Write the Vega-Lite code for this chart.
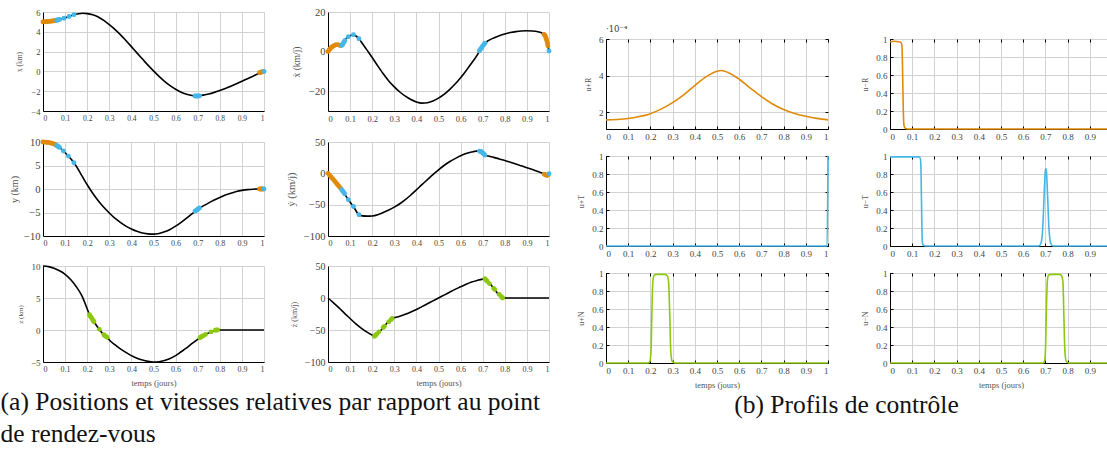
{
  "$schema": "https://vega.github.io/schema/vega-lite/v6.json",
  "background": "white",
  "padding": {"left": 0, "top": 7, "right": 0, "bottom": 0},
  "config": {
    "font": "Liberation Serif",
    "view": {"stroke": null},
    "axis": {
      "labelFont": "Liberation Serif", "labelFontSize": 8.5, "labelColor": "#444", "labelOverlap": false,
      "titleFont": "Liberation Serif", "titleFontSize": 8.5, "titleColor": "#555", "titleFontWeight": "normal",
      "gridColor": "#d2d2d2", "gridWidth": 1, "domainColor": "#000", "domainWidth": 1,
      "ticks": false, "labelPadding": 3, "titlePadding": 6
    },
    "title": {"font": "Liberation Serif", "fontWeight": "normal", "color": "#111"}
  },
  "datasets": {
    "x": [{"t":0,"v":5.0},{"t":0.02,"v":5.04},{"t":0.04,"v":5.09},{"t":0.06,"v":5.16},{"t":0.08,"v":5.28},{"t":0.1,"v":5.4},{"t":0.12,"v":5.57},{"t":0.14,"v":5.73},{"t":0.16,"v":5.83},{"t":0.18,"v":5.87},{"t":0.2,"v":5.84},{"t":0.225,"v":5.72},{"t":0.25,"v":5.5},{"t":0.275,"v":5.15},{"t":0.3,"v":4.72},{"t":0.325,"v":4.25},{"t":0.35,"v":3.72},{"t":0.375,"v":3.12},{"t":0.4,"v":2.5},{"t":0.425,"v":1.87},{"t":0.45,"v":1.25},{"t":0.475,"v":0.63},{"t":0.5,"v":0.05},{"t":0.525,"v":-0.5},{"t":0.55,"v":-1.0},{"t":0.575,"v":-1.44},{"t":0.6,"v":-1.8},{"t":0.625,"v":-2.1},{"t":0.65,"v":-2.3},{"t":0.675,"v":-2.44},{"t":0.69,"v":-2.49},{"t":0.7,"v":-2.49},{"t":0.71,"v":-2.46},{"t":0.725,"v":-2.4},{"t":0.75,"v":-2.28},{"t":0.775,"v":-2.12},{"t":0.8,"v":-1.93},{"t":0.825,"v":-1.72},{"t":0.85,"v":-1.49},{"t":0.875,"v":-1.25},{"t":0.9,"v":-1.0},{"t":0.925,"v":-0.74},{"t":0.95,"v":-0.48},{"t":0.975,"v":-0.22},{"t":0.99,"v":-0.06},{"t":1,"v":0}],
    "bx": [{"t":0,"v":5.0,"c":"R"},{"t":0.007,"v":5.01,"c":"R"},{"t":0.014,"v":5.02,"c":"R"},{"t":0.021,"v":5.04,"c":"R"},{"t":0.028,"v":5.05,"c":"R"},{"t":0.035,"v":5.07,"c":"R"},{"t":0.042,"v":5.09,"c":"R"},{"t":0.049,"v":5.11,"c":"R"},{"t":0.056,"v":5.14,"c":"R"},{"t":0.062,"v":5.17,"c":"T"},{"t":0.066,"v":5.19,"c":"T"},{"t":0.07,"v":5.21,"c":"T"},{"t":0.075,"v":5.24,"c":"T"},{"t":0.095,"v":5.37,"c":"T"},{"t":0.118,"v":5.55,"c":"T"},{"t":0.14,"v":5.73,"c":"T"},{"t":0.688,"v":-2.49,"c":"T"},{"t":0.693,"v":-2.49,"c":"T"},{"t":0.698,"v":-2.49,"c":"T"},{"t":0.703,"v":-2.48,"c":"T"},{"t":0.708,"v":-2.47,"c":"T"},{"t":0.98,"v":-0.13,"c":"R"},{"t":0.984,"v":-0.1,"c":"R"},{"t":0.988,"v":-0.07,"c":"R"},{"t":0.992,"v":-0.04,"c":"R"},{"t":0.995,"v":-0.02,"c":"R"},{"t":1,"v":0,"c":"T"}],
    "xd": [{"t":0,"v":0},{"t":0.01,"v":1.5},{"t":0.02,"v":2.5},{"t":0.03,"v":3.2},{"t":0.04,"v":3.5},{"t":0.05,"v":3.3},{"t":0.058,"v":3.0},{"t":0.063,"v":3.2},{"t":0.07,"v":4.5},{"t":0.08,"v":6.2},{"t":0.09,"v":7.4},{"t":0.1,"v":8.0},{"t":0.115,"v":8.5},{"t":0.125,"v":8.0},{"t":0.14,"v":6.5},{"t":0.15,"v":5.0},{"t":0.175,"v":1.0},{"t":0.2,"v":-3.0},{"t":0.225,"v":-7.2},{"t":0.25,"v":-11.2},{"t":0.275,"v":-14.8},{"t":0.3,"v":-17.8},{"t":0.325,"v":-20.4},{"t":0.35,"v":-22.5},{"t":0.375,"v":-24.2},{"t":0.4,"v":-25.4},{"t":0.425,"v":-26.0},{"t":0.45,"v":-25.8},{"t":0.475,"v":-25.0},{"t":0.5,"v":-23.5},{"t":0.525,"v":-21.6},{"t":0.55,"v":-19.2},{"t":0.575,"v":-16.4},{"t":0.6,"v":-13.2},{"t":0.625,"v":-9.6},{"t":0.65,"v":-5.8},{"t":0.675,"v":-1.8},{"t":0.69,"v":1.2},{"t":0.7,"v":2.8},{"t":0.71,"v":4.2},{"t":0.725,"v":5.5},{"t":0.75,"v":6.9},{"t":0.775,"v":8.0},{"t":0.8,"v":8.9},{"t":0.825,"v":9.6},{"t":0.85,"v":10.1},{"t":0.875,"v":10.4},{"t":0.9,"v":10.5},{"t":0.925,"v":10.4},{"t":0.95,"v":10.0},{"t":0.97,"v":9.3},{"t":0.98,"v":8.5},{"t":0.985,"v":7.2},{"t":0.99,"v":5.5},{"t":0.995,"v":3.0},{"t":1,"v":0.3}],
    "bxd": [{"t":0,"v":0,"c":"R"},{"t":0.005,"v":0.8,"c":"R"},{"t":0.01,"v":1.5,"c":"R"},{"t":0.015,"v":2.1,"c":"R"},{"t":0.02,"v":2.5,"c":"R"},{"t":0.027,"v":3.0,"c":"R"},{"t":0.034,"v":3.4,"c":"R"},{"t":0.041,"v":3.5,"c":"R"},{"t":0.048,"v":3.4,"c":"R"},{"t":0.055,"v":3.1,"c":"R"},{"t":0.062,"v":3.1,"c":"T"},{"t":0.065,"v":3.5,"c":"T"},{"t":0.068,"v":4.0,"c":"T"},{"t":0.072,"v":4.8,"c":"T"},{"t":0.076,"v":5.5,"c":"T"},{"t":0.092,"v":7.5,"c":"T"},{"t":0.115,"v":8.5,"c":"T"},{"t":0.14,"v":6.5,"c":"T"},{"t":0.685,"v":0.4,"c":"T"},{"t":0.69,"v":1.2,"c":"T"},{"t":0.695,"v":2.0,"c":"T"},{"t":0.7,"v":2.8,"c":"T"},{"t":0.705,"v":3.5,"c":"T"},{"t":0.71,"v":4.2,"c":"T"},{"t":0.978,"v":8.7,"c":"R"},{"t":0.981,"v":8.2,"c":"R"},{"t":0.984,"v":7.6,"c":"R"},{"t":0.987,"v":6.6,"c":"R"},{"t":0.99,"v":5.5,"c":"R"},{"t":0.993,"v":4.2,"c":"R"},{"t":0.995,"v":3.0,"c":"R"},{"t":1,"v":0.3,"c":"T"}],
    "y": [{"t":0,"v":10},{"t":0.02,"v":9.92},{"t":0.04,"v":9.7},{"t":0.06,"v":9.3},{"t":0.075,"v":8.85},{"t":0.09,"v":8.2},{"t":0.115,"v":7.0},{"t":0.14,"v":5.6},{"t":0.15,"v":4.9},{"t":0.175,"v":2.9},{"t":0.2,"v":0.9},{"t":0.225,"v":-0.9},{"t":0.25,"v":-2.5},{"t":0.275,"v":-3.9},{"t":0.3,"v":-5.1},{"t":0.325,"v":-6.2},{"t":0.35,"v":-7.1},{"t":0.375,"v":-7.9},{"t":0.4,"v":-8.5},{"t":0.425,"v":-9.0},{"t":0.45,"v":-9.35},{"t":0.475,"v":-9.55},{"t":0.5,"v":-9.6},{"t":0.525,"v":-9.45},{"t":0.55,"v":-9.1},{"t":0.575,"v":-8.6},{"t":0.6,"v":-7.9},{"t":0.625,"v":-7.1},{"t":0.65,"v":-6.2},{"t":0.675,"v":-5.25},{"t":0.69,"v":-4.65},{"t":0.7,"v":-4.3},{"t":0.71,"v":-4.0},{"t":0.725,"v":-3.6},{"t":0.75,"v":-2.95},{"t":0.775,"v":-2.35},{"t":0.8,"v":-1.8},{"t":0.825,"v":-1.3},{"t":0.85,"v":-0.9},{"t":0.875,"v":-0.55},{"t":0.9,"v":-0.3},{"t":0.925,"v":-0.13},{"t":0.95,"v":-0.04},{"t":0.975,"v":0},{"t":1,"v":0}],
    "by": [{"t":0,"v":10,"c":"R"},{"t":0.007,"v":9.98,"c":"R"},{"t":0.014,"v":9.95,"c":"R"},{"t":0.021,"v":9.92,"c":"R"},{"t":0.028,"v":9.87,"c":"R"},{"t":0.035,"v":9.8,"c":"R"},{"t":0.042,"v":9.7,"c":"R"},{"t":0.049,"v":9.58,"c":"R"},{"t":0.056,"v":9.42,"c":"R"},{"t":0.062,"v":9.25,"c":"T"},{"t":0.066,"v":9.12,"c":"T"},{"t":0.07,"v":9.0,"c":"T"},{"t":0.075,"v":8.85,"c":"T"},{"t":0.092,"v":8.1,"c":"T"},{"t":0.115,"v":7.0,"c":"T"},{"t":0.14,"v":5.6,"c":"T"},{"t":0.688,"v":-4.7,"c":"T"},{"t":0.693,"v":-4.55,"c":"T"},{"t":0.698,"v":-4.4,"c":"T"},{"t":0.703,"v":-4.2,"c":"T"},{"t":0.708,"v":-4.05,"c":"T"},{"t":0.98,"v":0,"c":"R"},{"t":0.984,"v":0,"c":"R"},{"t":0.988,"v":0,"c":"R"},{"t":0.992,"v":0,"c":"R"},{"t":0.995,"v":0,"c":"R"},{"t":1,"v":0,"c":"T"}],
    "yd": [{"t":0,"v":0},{"t":0.02,"v":-8},{"t":0.04,"v":-16.5},{"t":0.06,"v":-25},{"t":0.07,"v":-30},{"t":0.09,"v":-41},{"t":0.115,"v":-53},{"t":0.14,"v":-66},{"t":0.15,"v":-67.5},{"t":0.175,"v":-68.3},{"t":0.2,"v":-68},{"t":0.225,"v":-66},{"t":0.25,"v":-62.5},{"t":0.275,"v":-58.5},{"t":0.3,"v":-54},{"t":0.325,"v":-48.5},{"t":0.35,"v":-42},{"t":0.375,"v":-34.5},{"t":0.4,"v":-26.5},{"t":0.425,"v":-18},{"t":0.45,"v":-10},{"t":0.475,"v":-2},{"t":0.5,"v":5.5},{"t":0.525,"v":12.5},{"t":0.55,"v":18.5},{"t":0.575,"v":23.5},{"t":0.6,"v":28},{"t":0.625,"v":31.5},{"t":0.65,"v":34},{"t":0.67,"v":35.5},{"t":0.685,"v":35.5},{"t":0.69,"v":35},{"t":0.7,"v":32.5},{"t":0.71,"v":29},{"t":0.725,"v":27.5},{"t":0.75,"v":25.5},{"t":0.775,"v":23},{"t":0.8,"v":20.5},{"t":0.825,"v":17.8},{"t":0.85,"v":15},{"t":0.875,"v":12},{"t":0.9,"v":9},{"t":0.925,"v":6},{"t":0.95,"v":3},{"t":0.975,"v":-0.5},{"t":0.98,"v":-1.5},{"t":0.99,"v":-3},{"t":0.995,"v":-3},{"t":1,"v":0}],
    "byd": [{"t":0,"v":0,"c":"R"},{"t":0.007,"v":-3,"c":"R"},{"t":0.014,"v":-5.8,"c":"R"},{"t":0.021,"v":-8.6,"c":"R"},{"t":0.028,"v":-11.5,"c":"R"},{"t":0.035,"v":-14.5,"c":"R"},{"t":0.042,"v":-17.5,"c":"R"},{"t":0.049,"v":-20.5,"c":"R"},{"t":0.056,"v":-23.5,"c":"R"},{"t":0.062,"v":-26,"c":"T"},{"t":0.066,"v":-28,"c":"T"},{"t":0.07,"v":-30,"c":"T"},{"t":0.075,"v":-32.5,"c":"T"},{"t":0.092,"v":-42,"c":"T"},{"t":0.115,"v":-53,"c":"T"},{"t":0.14,"v":-66,"c":"T"},{"t":0.685,"v":35.5,"c":"T"},{"t":0.69,"v":35,"c":"T"},{"t":0.695,"v":34,"c":"T"},{"t":0.7,"v":32.5,"c":"T"},{"t":0.705,"v":31,"c":"T"},{"t":0.71,"v":29,"c":"T"},{"t":0.978,"v":-1.2,"c":"R"},{"t":0.982,"v":-2,"c":"R"},{"t":0.986,"v":-2.6,"c":"R"},{"t":0.99,"v":-3,"c":"R"},{"t":0.994,"v":-3,"c":"R"},{"t":1,"v":-0.5,"c":"T"}],
    "z": [{"t":0,"v":10},{"t":0.025,"v":9.9},{"t":0.05,"v":9.65},{"t":0.075,"v":9.25},{"t":0.1,"v":8.7},{"t":0.125,"v":7.9},{"t":0.15,"v":6.8},{"t":0.175,"v":5.4},{"t":0.2,"v":3.3},{"t":0.21,"v":2.4},{"t":0.225,"v":1.6},{"t":0.25,"v":0.3},{"t":0.275,"v":-0.75},{"t":0.29,"v":-1.15},{"t":0.3,"v":-1.55},{"t":0.325,"v":-2.3},{"t":0.35,"v":-2.95},{"t":0.375,"v":-3.5},{"t":0.4,"v":-4.0},{"t":0.425,"v":-4.4},{"t":0.45,"v":-4.7},{"t":0.475,"v":-4.9},{"t":0.5,"v":-5.0},{"t":0.525,"v":-4.95},{"t":0.55,"v":-4.75},{"t":0.575,"v":-4.45},{"t":0.6,"v":-4.0},{"t":0.625,"v":-3.4},{"t":0.65,"v":-2.8},{"t":0.675,"v":-2.1},{"t":0.7,"v":-1.45},{"t":0.71,"v":-1.2},{"t":0.725,"v":-0.9},{"t":0.75,"v":-0.45},{"t":0.775,"v":-0.1},{"t":0.79,"v":0},{"t":0.85,"v":0},{"t":1,"v":0}],
    "bz": [{"t":0.21,"v":2.4,"c":"N"},{"t":0.213,"v":2.2,"c":"N"},{"t":0.217,"v":2.0,"c":"N"},{"t":0.222,"v":1.75,"c":"N"},{"t":0.227,"v":1.5,"c":"N"},{"t":0.23,"v":1.3,"c":"N"},{"t":0.255,"v":0.1,"c":"N"},{"t":0.275,"v":-0.75,"c":"N"},{"t":0.28,"v":-0.9,"c":"N"},{"t":0.285,"v":-1.0,"c":"N"},{"t":0.29,"v":-1.15,"c":"N"},{"t":0.71,"v":-1.2,"c":"N"},{"t":0.715,"v":-1.1,"c":"N"},{"t":0.72,"v":-1.0,"c":"N"},{"t":0.725,"v":-0.9,"c":"N"},{"t":0.735,"v":-0.7,"c":"N"},{"t":0.76,"v":-0.3,"c":"N"},{"t":0.78,"v":-0.05,"c":"N"},{"t":0.785,"v":0,"c":"N"},{"t":0.79,"v":0,"c":"N"}],
    "zd": [{"t":0,"v":0},{"t":0.025,"v":-7.5},{"t":0.05,"v":-15.5},{"t":0.075,"v":-24},{"t":0.1,"v":-32},{"t":0.125,"v":-40},{"t":0.15,"v":-47},{"t":0.175,"v":-53},{"t":0.2,"v":-58},{"t":0.21,"v":-60},{"t":0.25,"v":-46},{"t":0.29,"v":-32},{"t":0.3,"v":-31},{"t":0.325,"v":-28.5},{"t":0.35,"v":-25.5},{"t":0.375,"v":-22},{"t":0.4,"v":-18},{"t":0.425,"v":-13.5},{"t":0.45,"v":-9},{"t":0.475,"v":-4.5},{"t":0.5,"v":0},{"t":0.525,"v":4.5},{"t":0.55,"v":9},{"t":0.575,"v":13.5},{"t":0.6,"v":17.5},{"t":0.625,"v":21.5},{"t":0.65,"v":25},{"t":0.675,"v":27.5},{"t":0.7,"v":29.5},{"t":0.71,"v":30},{"t":0.75,"v":15},{"t":0.79,"v":0},{"t":0.85,"v":0},{"t":1,"v":0}],
    "bzd": [{"t":0.21,"v":-60,"c":"N"},{"t":0.215,"v":-58.3,"c":"N"},{"t":0.22,"v":-56.5,"c":"N"},{"t":0.23,"v":-53,"c":"N"},{"t":0.25,"v":-46,"c":"N"},{"t":0.255,"v":-44.3,"c":"N"},{"t":0.275,"v":-37.3,"c":"N"},{"t":0.285,"v":-33.8,"c":"N"},{"t":0.29,"v":-32,"c":"N"},{"t":0.71,"v":30,"c":"N"},{"t":0.715,"v":28.1,"c":"N"},{"t":0.72,"v":26.3,"c":"N"},{"t":0.73,"v":22.5,"c":"N"},{"t":0.75,"v":15,"c":"N"},{"t":0.755,"v":13.1,"c":"N"},{"t":0.775,"v":5.6,"c":"N"},{"t":0.785,"v":1.9,"c":"N"},{"t":0.79,"v":0,"c":"N"}],
    "upR": [{"t":0,"v":1.58},{"t":0.05,"v":1.6},{"t":0.1,"v":1.65},{"t":0.15,"v":1.76},{"t":0.2,"v":1.92},{"t":0.25,"v":2.18},{"t":0.3,"v":2.52},{"t":0.35,"v":2.95},{"t":0.4,"v":3.45},{"t":0.45,"v":3.93},{"t":0.5,"v":4.24},{"t":0.52,"v":4.28},{"t":0.55,"v":4.17},{"t":0.6,"v":3.8},{"t":0.65,"v":3.32},{"t":0.7,"v":2.85},{"t":0.75,"v":2.45},{"t":0.8,"v":2.15},{"t":0.85,"v":1.93},{"t":0.9,"v":1.78},{"t":0.95,"v":1.66},{"t":1,"v":1.58}],
    "umR": [{"t":0,"v":0.97},{"t":0.02,"v":0.975},{"t":0.04,"v":0.97},{"t":0.05,"v":0.96},{"t":0.054,"v":0.92},{"t":0.057,"v":0.6},{"t":0.06,"v":0.2},{"t":0.063,"v":0.04},{"t":0.068,"v":0.01},{"t":0.08,"v":0},{"t":0.982,"v":0},{"t":0.986,"v":0.08},{"t":0.99,"v":0.6},{"t":0.994,"v":0.95},{"t":1,"v":0.97}],
    "upT": [{"t":0,"v":0},{"t":0.996,"v":0},{"t":1,"v":1}],
    "umT": [{"t":0,"v":0.99},{"t":0.13,"v":0.99},{"t":0.137,"v":0.97},{"t":0.14,"v":0.8},{"t":0.143,"v":0.3},{"t":0.146,"v":0.04},{"t":0.15,"v":0.01},{"t":0.16,"v":0},{"t":0.67,"v":0},{"t":0.68,"v":0.03},{"t":0.688,"v":0.2},{"t":0.694,"v":0.55},{"t":0.699,"v":0.82},{"t":0.702,"v":0.86},{"t":0.705,"v":0.82},{"t":0.71,"v":0.55},{"t":0.716,"v":0.2},{"t":0.724,"v":0.03},{"t":0.735,"v":0},{"t":1,"v":0}],
    "upN": [{"t":0,"v":0},{"t":0.19,"v":0},{"t":0.198,"v":0.02},{"t":0.203,"v":0.15},{"t":0.207,"v":0.6},{"t":0.211,"v":0.9},{"t":0.216,"v":0.97},{"t":0.225,"v":0.985},{"t":0.265,"v":0.985},{"t":0.276,"v":0.97},{"t":0.282,"v":0.9},{"t":0.287,"v":0.55},{"t":0.292,"v":0.12},{"t":0.298,"v":0.02},{"t":0.31,"v":0},{"t":1,"v":0}],
    "umN": [{"t":0,"v":0},{"t":0.69,"v":0},{"t":0.697,"v":0.03},{"t":0.701,"v":0.2},{"t":0.705,"v":0.65},{"t":0.709,"v":0.92},{"t":0.714,"v":0.975},{"t":0.725,"v":0.985},{"t":0.765,"v":0.985},{"t":0.773,"v":0.97},{"t":0.779,"v":0.9},{"t":0.783,"v":0.55},{"t":0.788,"v":0.12},{"t":0.794,"v":0.02},{"t":0.805,"v":0},{"t":1,"v":0}]
  },
  "spacing": 24,
  "hconcat": [
    {
      "title": {"text": ["(a) Positions et vitesses relatives par rapport au point", "de rendez-vous"], "orient": "bottom", "anchor": "start", "align": "left", "fontSize": 25.5, "lineHeight": 32, "offset": 3, "dx": -9},
      "columns": 2,
      "spacing": {"row": 14, "column": 18},
      "resolve": {"scale": {"x": "independent", "y": "independent"}},
      "concat": [
        {"width": 221, "height": 99,
         "encoding": {"x": {"field": "t", "type": "quantitative", "scale": {"domain": [0, 1], "nice": false}, "axis": {"title": null, "values": [0,0.1,0.2,0.3,0.4,0.5,0.6,0.7,0.8,0.9,1], "format": "~g", "labelFontSize": 7.5}},
                      "y": {"field": "v", "type": "quantitative", "scale": {"domain": [-4, 6], "nice": false, "zero": false}, "axis": {"title": "x (km)", "values": [-4,-2,0,2,4,6], "titleFontSize": 7.5, "titlePadding": 7, "labelFontSize": 8.5}}},
         "layer": [
          {"data": {"name": "x"}, "mark": {"type": "line", "color": "#000", "strokeWidth": 1.6, "interpolate": "monotone"}},
          {"data": {"name": "bx"}, "mark": {"type": "circle", "size": 24, "opacity": 1},
           "encoding": {"color": {"field": "c", "type": "nominal", "scale": {"domain": ["R","T","N"], "range": ["#e08a0b","#45b6e8","#8cc810"]}, "legend": null}}}
        ]},
        {"width": 221, "height": 99,
         "encoding": {"x": {"field": "t", "type": "quantitative", "scale": {"domain": [0, 1], "nice": false}, "axis": {"title": null, "values": [0,0.1,0.2,0.3,0.4,0.5,0.6,0.7,0.8,0.9,1], "format": "~g", "labelFontSize": 8.5}},
                      "y": {"field": "v", "type": "quantitative", "scale": {"domain": [-30, 20], "nice": false, "zero": false}, "axis": {"title": "ẋ (km/j)", "values": [-20,0,20], "titleFontSize": 9.5, "titlePadding": 7, "labelFontSize": 10.5}}},
         "layer": [
          {"data": {"name": "xd"}, "mark": {"type": "line", "color": "#000", "strokeWidth": 1.6, "interpolate": "monotone"}},
          {"data": {"name": "bxd"}, "mark": {"type": "circle", "size": 24, "opacity": 1},
           "encoding": {"color": {"field": "c", "type": "nominal", "scale": {"domain": ["R","T","N"], "range": ["#e08a0b","#45b6e8","#8cc810"]}, "legend": null}}}
        ]},
        {"width": 221, "height": 94,
         "encoding": {"x": {"field": "t", "type": "quantitative", "scale": {"domain": [0, 1], "nice": false}, "axis": {"title": null, "values": [0,0.1,0.2,0.3,0.4,0.5,0.6,0.7,0.8,0.9,1], "format": "~g", "labelFontSize": 8}},
                      "y": {"field": "v", "type": "quantitative", "scale": {"domain": [-10, 10], "nice": false, "zero": false}, "axis": {"title": "y (km)", "values": [-10,-5,0,5,10], "titleFontSize": 10, "titlePadding": 4, "labelFontSize": 10.5}}},
         "layer": [
          {"data": {"name": "y"}, "mark": {"type": "line", "color": "#000", "strokeWidth": 1.6, "interpolate": "monotone"}},
          {"data": {"name": "by"}, "mark": {"type": "circle", "size": 24, "opacity": 1},
           "encoding": {"color": {"field": "c", "type": "nominal", "scale": {"domain": ["R","T","N"], "range": ["#e08a0b","#45b6e8","#8cc810"]}, "legend": null}}}
        ]},
        {"width": 221, "height": 94,
         "encoding": {"x": {"field": "t", "type": "quantitative", "scale": {"domain": [0, 1], "nice": false}, "axis": {"title": null, "values": [0,0.1,0.2,0.3,0.4,0.5,0.6,0.7,0.8,0.9,1], "format": "~g", "labelFontSize": 8}},
                      "y": {"field": "v", "type": "quantitative", "scale": {"domain": [-100, 50], "nice": false, "zero": false}, "axis": {"title": "ẏ (km/j)", "values": [-100,-50,0,50], "titleFontSize": 10.5, "titlePadding": 7, "labelFontSize": 10.5}}},
         "layer": [
          {"data": {"name": "yd"}, "mark": {"type": "line", "color": "#000", "strokeWidth": 1.6, "interpolate": "monotone"}},
          {"data": {"name": "byd"}, "mark": {"type": "circle", "size": 24, "opacity": 1},
           "encoding": {"color": {"field": "c", "type": "nominal", "scale": {"domain": ["R","T","N"], "range": ["#e08a0b","#45b6e8","#8cc810"]}, "legend": null}}}
        ]},
        {"width": 221, "height": 96,
         "encoding": {"x": {"field": "t", "type": "quantitative", "scale": {"domain": [0, 1], "nice": false}, "axis": {"title": "temps (jours)", "values": [0,0.1,0.2,0.3,0.4,0.5,0.6,0.7,0.8,0.9,1], "format": "~g", "labelFontSize": 8, "titleFontSize": 8.5, "titlePadding": 5}},
                      "y": {"field": "v", "type": "quantitative", "scale": {"domain": [-5, 10], "nice": false, "zero": false}, "axis": {"title": "z (km)", "values": [-5,0,5,10], "titleFontSize": 7, "titlePadding": 7, "labelFontSize": 9}}},
         "layer": [
          {"data": {"name": "z"}, "mark": {"type": "line", "color": "#000", "strokeWidth": 1.6, "interpolate": "monotone"}},
          {"data": {"name": "bz"}, "mark": {"type": "circle", "size": 24, "opacity": 1},
           "encoding": {"color": {"field": "c", "type": "nominal", "scale": {"domain": ["R","T","N"], "range": ["#e08a0b","#45b6e8","#8cc810"]}, "legend": null}}}
        ]},
        {"width": 221, "height": 96,
         "encoding": {"x": {"field": "t", "type": "quantitative", "scale": {"domain": [0, 1], "nice": false}, "axis": {"title": "temps (jours)", "values": [0,0.1,0.2,0.3,0.4,0.5,0.6,0.7,0.8,0.9,1], "format": "~g", "labelFontSize": 8, "titleFontSize": 8.5, "titlePadding": 5}},
                      "y": {"field": "v", "type": "quantitative", "scale": {"domain": [-100, 50], "nice": false, "zero": false}, "axis": {"title": "ż (km/j)", "values": [-100,-50,0,50], "titleFontSize": 8, "titlePadding": 6, "labelFontSize": 10}}},
         "layer": [
          {"data": {"name": "zd"}, "mark": {"type": "line", "color": "#000", "strokeWidth": 1.6, "interpolate": "monotone"}},
          {"data": {"name": "bzd"}, "mark": {"type": "circle", "size": 24, "opacity": 1},
           "encoding": {"color": {"field": "c", "type": "nominal", "scale": {"domain": ["R","T","N"], "range": ["#e08a0b","#45b6e8","#8cc810"]}, "legend": null}}}
        ]}
      ]
    },
    {
      "title": {"text": "(b) Profils de contrôle", "orient": "bottom", "anchor": "middle", "fontSize": 25.5, "offset": 4},
      "spacing": 0,
      "vconcat": [
        {"width": 222, "height": 11, "view": {"stroke": null, "fill": "#ffffff"},
         "data": {"values": [{}]}, "mark": {"type": "point", "opacity": 0},
         "title": {"text": "·10⁻⁴", "orient": "bottom", "anchor": "start", "frame": "group", "fontSize": 8.5, "font": "DejaVu Serif", "color": "#333", "offset": 2}},
        {
          "columns": 2,
          "spacing": {"row": 9, "column": 29},
          "resolve": {"scale": {"x": "independent", "y": "independent"}},
          "concat": [
            {"width": 222, "height": 90, "view": {"stroke": "#000", "strokeWidth": 1},
             "layer": [
              {"data": {"name": "upR"}, "mark": {"type": "line", "color": "#e08a0b", "strokeWidth": 1.6, "interpolate": "monotone"},
               "encoding": {"x": {"field": "t", "type": "quantitative", "scale": {"domain": [0, 1], "nice": false}, "axis": {"title": null, "values": [0,0.1,0.2,0.3,0.4,0.5,0.6,0.7,0.8,0.9,1], "format": "~g", "ticks": true, "tickSize": -3, "tickColor": "#000", "labelPadding": 6, "labelFontSize": 9}},
                            "y": {"field": "v", "type": "quantitative", "scale": {"domain": [1.08, 6], "nice": false, "zero": false}, "axis": {"title": "u+R", "values": [2,4,6], "ticks": true, "tickSize": -3, "tickColor": "#000", "labelPadding": 6, "labelFontSize": 9, "titleFontSize": 8}}}},
              {"data": {"name": "upR"}, "mark": {"type": "line", "opacity": 0},
               "encoding": {"x": {"field": "t", "type": "quantitative", "axis": {"orient": "top", "title": null, "labels": false, "grid": false, "domain": false, "ticks": true, "tickSize": -3, "tickColor": "#000", "values": [0,0.1,0.2,0.3,0.4,0.5,0.6,0.7,0.8,0.9,1]}},
                            "y": {"field": "v", "type": "quantitative", "axis": {"orient": "right", "title": null, "labels": false, "grid": false, "domain": false, "ticks": true, "tickSize": -3, "tickColor": "#000", "values": [2,4,6]}}}}
             ],
             "resolve": {"axis": {"x": "independent", "y": "independent"}}},
            {"width": 222, "height": 90, "view": {"stroke": "#000", "strokeWidth": 1},
             "layer": [
              {"data": {"name": "umR"}, "mark": {"type": "line", "color": "#e08a0b", "strokeWidth": 1.6, "interpolate": "monotone"},
               "encoding": {"x": {"field": "t", "type": "quantitative", "scale": {"domain": [0, 1], "nice": false}, "axis": {"title": null, "values": [0,0.1,0.2,0.3,0.4,0.5,0.6,0.7,0.8,0.9,1], "format": "~g", "ticks": true, "tickSize": -3, "tickColor": "#000", "labelPadding": 6, "labelFontSize": 9}},
                            "y": {"field": "v", "type": "quantitative", "scale": {"domain": [0, 1], "nice": false}, "axis": {"title": "u−R", "values": [0,0.2,0.4,0.6,0.8,1], "format": "~g", "ticks": true, "tickSize": -3, "tickColor": "#000", "labelPadding": 6, "labelFontSize": 9, "titleFontSize": 8}}}},
              {"data": {"name": "umR"}, "mark": {"type": "line", "opacity": 0},
               "encoding": {"x": {"field": "t", "type": "quantitative", "axis": {"orient": "top", "title": null, "labels": false, "grid": false, "domain": false, "ticks": true, "tickSize": -3, "tickColor": "#000", "values": [0,0.1,0.2,0.3,0.4,0.5,0.6,0.7,0.8,0.9,1]}},
                            "y": {"field": "v", "type": "quantitative", "axis": {"orient": "right", "title": null, "labels": false, "grid": false, "domain": false, "ticks": true, "tickSize": -3, "tickColor": "#000", "values": [0,0.2,0.4,0.6,0.8,1]}}}}
             ],
             "resolve": {"axis": {"x": "independent", "y": "independent"}}},
            {"width": 222, "height": 90, "view": {"stroke": "#000", "strokeWidth": 1},
             "layer": [
              {"data": {"name": "upT"}, "mark": {"type": "line", "color": "#45b6e8", "strokeWidth": 1.6, "interpolate": "monotone"},
               "encoding": {"x": {"field": "t", "type": "quantitative", "scale": {"domain": [0, 1], "nice": false}, "axis": {"title": null, "values": [0,0.1,0.2,0.3,0.4,0.5,0.6,0.7,0.8,0.9,1], "format": "~g", "ticks": true, "tickSize": -3, "tickColor": "#000", "labelPadding": 6, "labelFontSize": 9}},
                            "y": {"field": "v", "type": "quantitative", "scale": {"domain": [0, 1], "nice": false}, "axis": {"title": "u+T", "values": [0,0.2,0.4,0.6,0.8,1], "format": "~g", "ticks": true, "tickSize": -3, "tickColor": "#000", "labelPadding": 6, "labelFontSize": 9, "titleFontSize": 8}}}},
              {"data": {"name": "upT"}, "mark": {"type": "line", "opacity": 0},
               "encoding": {"x": {"field": "t", "type": "quantitative", "axis": {"orient": "top", "title": null, "labels": false, "grid": false, "domain": false, "ticks": true, "tickSize": -3, "tickColor": "#000", "values": [0,0.1,0.2,0.3,0.4,0.5,0.6,0.7,0.8,0.9,1]}},
                            "y": {"field": "v", "type": "quantitative", "axis": {"orient": "right", "title": null, "labels": false, "grid": false, "domain": false, "ticks": true, "tickSize": -3, "tickColor": "#000", "values": [0,0.2,0.4,0.6,0.8,1]}}}}
             ],
             "resolve": {"axis": {"x": "independent", "y": "independent"}}},
            {"width": 222, "height": 90, "view": {"stroke": "#000", "strokeWidth": 1},
             "layer": [
              {"data": {"name": "umT"}, "mark": {"type": "line", "color": "#45b6e8", "strokeWidth": 1.6, "interpolate": "monotone"},
               "encoding": {"x": {"field": "t", "type": "quantitative", "scale": {"domain": [0, 1], "nice": false}, "axis": {"title": null, "values": [0,0.1,0.2,0.3,0.4,0.5,0.6,0.7,0.8,0.9,1], "format": "~g", "ticks": true, "tickSize": -3, "tickColor": "#000", "labelPadding": 6, "labelFontSize": 9}},
                            "y": {"field": "v", "type": "quantitative", "scale": {"domain": [0, 1], "nice": false}, "axis": {"title": "u−T", "values": [0,0.2,0.4,0.6,0.8,1], "format": "~g", "ticks": true, "tickSize": -3, "tickColor": "#000", "labelPadding": 6, "labelFontSize": 9, "titleFontSize": 8}}}},
              {"data": {"name": "umT"}, "mark": {"type": "line", "opacity": 0},
               "encoding": {"x": {"field": "t", "type": "quantitative", "axis": {"orient": "top", "title": null, "labels": false, "grid": false, "domain": false, "ticks": true, "tickSize": -3, "tickColor": "#000", "values": [0,0.1,0.2,0.3,0.4,0.5,0.6,0.7,0.8,0.9,1]}},
                            "y": {"field": "v", "type": "quantitative", "axis": {"orient": "right", "title": null, "labels": false, "grid": false, "domain": false, "ticks": true, "tickSize": -3, "tickColor": "#000", "values": [0,0.2,0.4,0.6,0.8,1]}}}}
             ],
             "resolve": {"axis": {"x": "independent", "y": "independent"}}},
            {"width": 222, "height": 90, "view": {"stroke": "#000", "strokeWidth": 1},
             "layer": [
              {"data": {"name": "upN"}, "mark": {"type": "line", "color": "#8cc810", "strokeWidth": 1.6, "interpolate": "monotone"},
               "encoding": {"x": {"field": "t", "type": "quantitative", "scale": {"domain": [0, 1], "nice": false}, "axis": {"title": "temps (jours)", "values": [0,0.1,0.2,0.3,0.4,0.5,0.6,0.7,0.8,0.9,1], "format": "~g", "ticks": true, "tickSize": -3, "tickColor": "#000", "labelPadding": 6, "labelFontSize": 9, "titlePadding": 5}},
                            "y": {"field": "v", "type": "quantitative", "scale": {"domain": [0, 1], "nice": false}, "axis": {"title": "u+N", "values": [0,0.2,0.4,0.6,0.8,1], "format": "~g", "ticks": true, "tickSize": -3, "tickColor": "#000", "labelPadding": 6, "labelFontSize": 9, "titleFontSize": 8}}}},
              {"data": {"name": "upN"}, "mark": {"type": "line", "opacity": 0},
               "encoding": {"x": {"field": "t", "type": "quantitative", "axis": {"orient": "top", "title": null, "labels": false, "grid": false, "domain": false, "ticks": true, "tickSize": -3, "tickColor": "#000", "values": [0,0.1,0.2,0.3,0.4,0.5,0.6,0.7,0.8,0.9,1]}},
                            "y": {"field": "v", "type": "quantitative", "axis": {"orient": "right", "title": null, "labels": false, "grid": false, "domain": false, "ticks": true, "tickSize": -3, "tickColor": "#000", "values": [0,0.2,0.4,0.6,0.8,1]}}}}
             ],
             "resolve": {"axis": {"x": "independent", "y": "independent"}}},
            {"width": 222, "height": 90, "view": {"stroke": "#000", "strokeWidth": 1},
             "layer": [
              {"data": {"name": "umN"}, "mark": {"type": "line", "color": "#8cc810", "strokeWidth": 1.6, "interpolate": "monotone"},
               "encoding": {"x": {"field": "t", "type": "quantitative", "scale": {"domain": [0, 1], "nice": false}, "axis": {"title": "temps (jours)", "values": [0,0.1,0.2,0.3,0.4,0.5,0.6,0.7,0.8,0.9,1], "format": "~g", "ticks": true, "tickSize": -3, "tickColor": "#000", "labelPadding": 6, "labelFontSize": 9, "titlePadding": 5}},
                            "y": {"field": "v", "type": "quantitative", "scale": {"domain": [0, 1], "nice": false}, "axis": {"title": "u−N", "values": [0,0.2,0.4,0.6,0.8,1], "format": "~g", "ticks": true, "tickSize": -3, "tickColor": "#000", "labelPadding": 6, "labelFontSize": 9, "titleFontSize": 8}}}},
              {"data": {"name": "umN"}, "mark": {"type": "line", "opacity": 0},
               "encoding": {"x": {"field": "t", "type": "quantitative", "axis": {"orient": "top", "title": null, "labels": false, "grid": false, "domain": false, "ticks": true, "tickSize": -3, "tickColor": "#000", "values": [0,0.1,0.2,0.3,0.4,0.5,0.6,0.7,0.8,0.9,1]}},
                            "y": {"field": "v", "type": "quantitative", "axis": {"orient": "right", "title": null, "labels": false, "grid": false, "domain": false, "ticks": true, "tickSize": -3, "tickColor": "#000", "values": [0,0.2,0.4,0.6,0.8,1]}}}}
             ],
             "resolve": {"axis": {"x": "independent", "y": "independent"}}}
          ]
        }
      ]
    }
  ]
}
